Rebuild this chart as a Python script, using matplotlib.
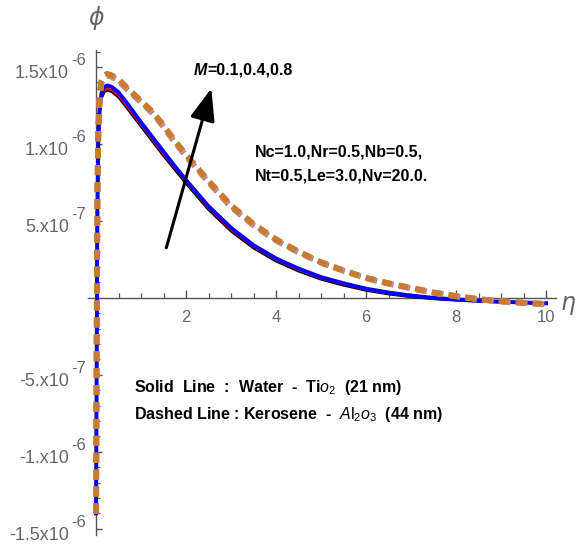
import numpy as np
import matplotlib.pyplot as plt
from matplotlib.ticker import MultipleLocator, FixedLocator, NullFormatter

plt.rcParams['font.family'] = ['Liberation Sans', 'DejaVu Sans']
plt.rcParams['mathtext.fontset'] = 'custom'
plt.rcParams['mathtext.rm'] = 'Liberation Sans'
plt.rcParams['mathtext.it'] = 'Liberation Sans:italic'
plt.rcParams['mathtext.bf'] = 'Liberation Sans:bold'

# eta grid
eta = [0, 0.01, 0.02, 0.03, 0.05, 0.08, 0.12, 0.18, 0.25, 0.35, 0.5, 0.7,
       1.0, 1.25, 1.5, 1.75, 2.0, 2.5, 3.0, 3.5, 4.0, 4.5, 5.0, 5.5, 6.0,
       6.5, 7.0, 7.5, 8.0, 8.5, 9.0, 9.5, 10.0]

# solid lines: Water - TiO2, M = 0.1, 0.4, 0.8 (units of 1e-6)
water_m01 = [-1.40, -0.62, 0.08, 0.58, 1.02, 1.21, 1.30, 1.34, 1.35, 1.34,
             1.305, 1.23, 1.115, 1.02, 0.925, 0.835, 0.745, 0.575, 0.435,
             0.325, 0.24, 0.175, 0.122, 0.083, 0.05, 0.026, 0.008, -0.005,
             -0.014, -0.021, -0.027, -0.031, -0.035]
water_m04 = [-1.40, -0.61, 0.09, 0.59, 1.03, 1.22, 1.31, 1.35, 1.36, 1.35,
             1.315, 1.24, 1.125, 1.03, 0.935, 0.845, 0.755, 0.585, 0.445,
             0.333, 0.248, 0.182, 0.128, 0.089, 0.055, 0.03, 0.011, -0.003,
             -0.012, -0.02, -0.026, -0.031, -0.035]
water_m08 = [-1.40, -0.60, 0.10, 0.60, 1.05, 1.24, 1.33, 1.37, 1.38, 1.37,
             1.335, 1.26, 1.14, 1.045, 0.95, 0.855, 0.765, 0.595, 0.455,
             0.342, 0.256, 0.19, 0.135, 0.095, 0.06, 0.035, 0.015, 0.0,
             -0.01, -0.018, -0.025, -0.03, -0.035]

# dashed lines: Kerosene - Al2O3, M = 0.1, 0.4, 0.8 (units of 1e-6)
kero_m01 = [-1.40, -0.51, 0.19, 0.69, 1.09, 1.31, 1.40, 1.435, 1.445, 1.435,
            1.41, 1.35, 1.27, 1.20, 1.11, 1.01, 0.92, 0.75, 0.59, 0.47,
            0.372, 0.295, 0.228, 0.175, 0.128, 0.092, 0.062, 0.033, 0.01,
            -0.009, -0.023, -0.032, -0.04]
kero_m04 = [-1.40, -0.505, 0.195, 0.695, 1.095, 1.315, 1.405, 1.44, 1.45,
            1.44, 1.415, 1.355, 1.275, 1.205, 1.115, 1.015, 0.925, 0.755,
            0.595, 0.475, 0.376, 0.298, 0.23, 0.177, 0.129, 0.093, 0.063,
            0.034, 0.011, -0.0085, -0.0225, -0.032, -0.04]
kero_m08 = [-1.40, -0.50, 0.20, 0.70, 1.10, 1.32, 1.41, 1.445, 1.455, 1.445,
            1.42, 1.36, 1.28, 1.21, 1.12, 1.02, 0.93, 0.76, 0.60, 0.48,
            0.38, 0.30, 0.232, 0.178, 0.13, 0.095, 0.065, 0.035, 0.012,
            -0.008, -0.022, -0.032, -0.04]

ytick_vals = [-1.5e-6, -1e-6, -5e-7, 5e-7, 1e-6, 1.5e-6]
ytick_base = ['-1.5x10', '-1.x10', '-5.x10', '5.x10', '1.x10', '1.5x10']
ytick_exp = ['-6', '-6', '-7', '-7', '-6', '-6']
xtick_vals = [2, 4, 6, 8, 10]

gray = '#666666'


def main():
    fig = plt.figure(figsize=(5.79, 5.45), dpi=100)
    ax = fig.add_axes([88 / 579, 1 - 535 / 545, 468 / 579, 485 / 545])

    e = np.array(eta)
    sc = 1e-6
    ax.plot(e, np.array(water_m01) * sc, color='black', lw=2.2, zorder=3)
    ax.plot(e, np.array(water_m04) * sc, color='red', lw=1.8, zorder=4)
    ax.plot(e, np.array(water_m08) * sc, color='blue', lw=2.8, zorder=5)
    ax.plot(e, np.array(kero_m01) * sc, color='#8c8cb4', lw=4.2,
            dashes=(1.7, 1.2), zorder=6)
    ax.plot(e, np.array(kero_m04) * sc, color='#e98a6c', lw=4.2,
            dashes=(1.7, 1.2), zorder=7)
    ax.plot(e, np.array(kero_m08) * sc, color='#c77a30', lw=4.2,
            dashes=(1.7, 1.2), zorder=8)

    ax.set_xlim(-0.18, 10.22)
    ax.set_ylim(-1.54e-6, 1.61e-6)

    for s in ['top', 'right']:
        ax.spines[s].set_visible(False)
    ax.spines['left'].set_position(('data', 0))
    ax.spines['bottom'].set_position(('data', 0))
    for s in ['left', 'bottom']:
        ax.spines[s].set_color('#555555')
        ax.spines[s].set_linewidth(1.0)

    ax.xaxis.set_major_locator(FixedLocator(xtick_vals))
    ax.xaxis.set_minor_locator(MultipleLocator(0.5))
    ax.yaxis.set_major_locator(FixedLocator(ytick_vals))
    ax.yaxis.set_minor_locator(MultipleLocator(1e-7))
    ax.set_xticklabels([str(v) for v in xtick_vals])
    ax.yaxis.set_major_formatter(NullFormatter())

    ax.tick_params(which='both', direction='in', colors='#555555',
                   labelcolor=gray, labelsize=12)
    ax.tick_params(axis='x', which='major', length=5.5, width=1.0, pad=9)
    ax.tick_params(axis='x', which='minor', length=3.8, width=0.9)
    ax.tick_params(axis='y', which='major', length=4.5, width=1.0)
    ax.tick_params(axis='y', which='minor', length=3, width=0.9)

    # y tick labels like "1.5x10^-6"
    for v, b, p in zip(ytick_vals, ytick_base, ytick_exp):
        t = ax.annotate(b, xy=(0, v), xycoords='data', xytext=(-27, -11),
                        textcoords='offset pixels', ha='right',
                        va='baseline', fontsize=13, color=gray)
        ax.annotate(p, xy=(1, 1), xycoords=t, xytext=(2, -3),
                    textcoords='offset pixels', ha='left', va='bottom',
                    fontsize=12, color=gray)

    # axis labels
    ax.text(0, 1.82e-6, '\u03d5', color=gray, fontsize=17, style='italic',
            ha='center', va='center', family='DejaVu Sans', clip_on=False)
    ax.text(10.49, -0.03e-6, '\u03b7', color=gray, fontsize=17, style='italic',
            ha='center', va='center', family='DejaVu Sans', clip_on=False)

    # arrow for increasing M
    ax.annotate('', xy=(2.56, 1.36e-6), xytext=(1.56, 0.325e-6),
                arrowprops=dict(arrowstyle='-|>,head_width=0.35,head_length=0.9',
                                color='black', lw=2.2,
                                mutation_scale=22, shrinkA=0, shrinkB=0),
                zorder=10)
    mt = ax.text(2.16, 1.48e-6, 'M', fontsize=11.5, weight='bold',
                 style='italic', ha='left', va='center')
    ax.annotate('=0.1,0.4,0.8', xy=(1.08, 0.0), xycoords=mt, fontsize=11.5,
                weight='bold', ha='left', va='bottom')

    ax.text(3.53, 0.95e-6, 'Nc=1.0,Nr=0.5,Nb=0.5,', fontsize=11.5,
            weight='bold', ha='left', va='center')
    ax.text(3.53, 0.79e-6, 'Nt=0.5,Le=3.0,Nv=20.0.', fontsize=11.5,
            weight='bold', ha='left', va='center')

    ax.text(0.84, -0.585e-6,
            r'Solid  Line  :  Water  -  Ti$\mathit{o}_2$  (21 nm)',
            fontsize=11.5, weight='bold', ha='left', va='center')
    ax.text(0.84, -0.76e-6,
            r'Dashed Line : Kerosene  -  $\mathbf{\mathit{A}}\mathrm{l}_2\mathit{o}_3$  (44 nm)',
            fontsize=11.5, weight='bold', ha='left', va='center')

    fig.savefig('out.png', dpi=100)


if __name__ == '__main__':
    main()
